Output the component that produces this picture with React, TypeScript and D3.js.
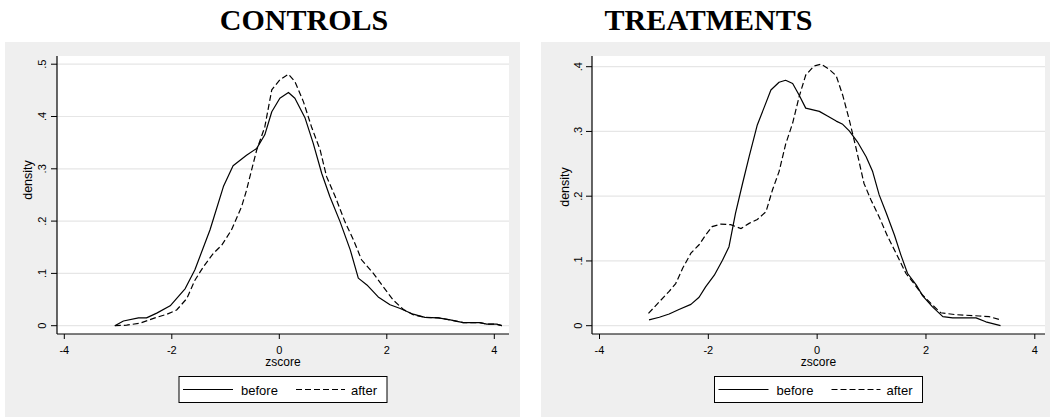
import * as d3 from "d3";

// zscore / density pairs
const controlsBefore: [number, number][] = [
  [-3.06, 0.0], [-2.9, 0.009], [-2.62, 0.015], [-2.47, 0.015], [-2.28, 0.024], [-2.03, 0.038],
  [-1.75, 0.071], [-1.57, 0.107], [-1.29, 0.183], [-1.04, 0.266], [-0.86, 0.306], [-0.61, 0.326],
  [-0.42, 0.339], [-0.27, 0.365], [-0.14, 0.409], [0.01, 0.435], [0.17, 0.446], [0.29, 0.435],
  [0.48, 0.397], [0.63, 0.349], [0.79, 0.291], [0.94, 0.247], [1.13, 0.199], [1.32, 0.145],
  [1.47, 0.091], [1.63, 0.078], [1.84, 0.055], [2.06, 0.04], [2.25, 0.033], [2.49, 0.022],
  [2.71, 0.016], [2.96, 0.015], [3.18, 0.011], [3.42, 0.006], [3.73, 0.006], [3.86, 0.003],
  [4.04, 0.003], [4.14, 0.0],
];

const controlsAfter: [number, number][] = [
  [-3.06, 0.0], [-2.84, 0.001], [-2.59, 0.005], [-2.34, 0.014], [-2.09, 0.022], [-1.91, 0.03],
  [-1.72, 0.052], [-1.57, 0.087], [-1.41, 0.113], [-1.23, 0.138], [-1.07, 0.154], [-0.89, 0.183],
  [-0.7, 0.228], [-0.61, 0.259], [-0.51, 0.3], [-0.42, 0.336], [-0.27, 0.38], [-0.14, 0.451],
  [0.01, 0.47], [0.17, 0.481], [0.29, 0.467], [0.45, 0.428], [0.6, 0.38], [0.76, 0.336],
  [0.88, 0.285], [1.04, 0.247], [1.22, 0.199], [1.38, 0.164], [1.53, 0.126], [1.75, 0.1],
  [1.93, 0.075], [2.12, 0.049], [2.31, 0.031], [2.49, 0.021], [2.71, 0.016], [2.96, 0.015],
  [3.18, 0.011], [3.42, 0.006], [3.73, 0.006], [3.86, 0.003], [4.04, 0.003], [4.14, 0.0],
];

const treatmentsBefore: [number, number][] = [
  [-3.09, 0.009], [-2.9, 0.013], [-2.72, 0.018], [-2.54, 0.025], [-2.32, 0.033], [-2.17, 0.044],
  [-2.05, 0.06], [-1.89, 0.078], [-1.74, 0.101], [-1.62, 0.122], [-1.5, 0.174], [-1.37, 0.22],
  [-1.25, 0.261], [-1.1, 0.31], [-0.97, 0.338], [-0.85, 0.364], [-0.7, 0.376], [-0.58, 0.379],
  [-0.45, 0.374], [-0.33, 0.356], [-0.21, 0.336], [0.04, 0.331], [0.19, 0.324], [0.35, 0.316],
  [0.47, 0.311], [0.59, 0.301], [0.74, 0.284], [0.9, 0.261], [1.02, 0.238], [1.14, 0.202],
  [1.27, 0.174], [1.42, 0.14], [1.54, 0.109], [1.66, 0.081], [1.82, 0.063], [1.94, 0.046],
  [2.12, 0.029], [2.31, 0.014], [2.49, 0.012], [2.92, 0.012], [3.1, 0.006], [3.37, 0.0],
];

const treatmentsAfter: [number, number][] = [
  [-3.1, 0.019], [-2.9, 0.037], [-2.72, 0.053], [-2.6, 0.065], [-2.47, 0.089], [-2.32, 0.112],
  [-2.17, 0.125], [-2.05, 0.14], [-1.93, 0.153], [-1.77, 0.157], [-1.59, 0.156], [-1.4, 0.15],
  [-1.25, 0.158], [-1.1, 0.164], [-0.94, 0.176], [-0.82, 0.21], [-0.7, 0.238], [-0.58, 0.28],
  [-0.45, 0.313], [-0.33, 0.354], [-0.21, 0.387], [-0.06, 0.401], [0.07, 0.404], [0.22, 0.396],
  [0.35, 0.386], [0.47, 0.356], [0.59, 0.318], [0.71, 0.276], [0.86, 0.22], [0.99, 0.194],
  [1.14, 0.168], [1.3, 0.137], [1.45, 0.112], [1.63, 0.081], [1.78, 0.065], [1.94, 0.047],
  [2.12, 0.032], [2.27, 0.02], [2.55, 0.017], [2.98, 0.015], [3.16, 0.014], [3.37, 0.009],
];

const xTicks = [-4, -2, 0, 2, 4];
const controlsYTicks = [0, 0.1, 0.2, 0.3, 0.4, 0.5];
const treatmentsYTicks = [0, 0.1, 0.2, 0.3, 0.4];
const legendLabels = ["before", "after"];

const sans = "'Liberation Sans', Arial, sans-serif";
const fmtY = (v: number) => (v === 0 ? "0" : d3.format(".1f")(v).replace(/^0/, ""));

type PanelProps = {
  title: string;
  titleX: number;
  bg: [number, number];
  plot: [number, number];
  xRange: [number, number];
  yTop: number;
  yMax: number;
  yTicks: number[];
  before: [number, number][];
  after: [number, number][];
  tickLabelOff: number;
  yTitleOff: number;
  yTitleY: number;
};

function Panel(p: PanelProps) {
  const x = d3.scaleLinear().domain([-4, 4]).range(p.xRange);
  const y = d3.scaleLinear().domain([0, p.yMax]).range([325.7, p.yTop]);
  const line = d3.line<[number, number]>().x(d => x(d[0])).y(d => y(d[1]));
  const [px0, px1] = p.plot;
  const plotTop = 56;
  const plotBottom = 334;
  const cx = (px0 + px1) / 2;
  const lgW = 208;
  const lgX = cx - lgW / 2;

  return (
    <g>
      <text x={p.titleX} y={30} textAnchor="middle" fontFamily="'Liberation Serif', 'Times New Roman', serif"
        fontWeight="bold" fontSize={30}>{p.title}</text>
      <rect x={p.bg[0]} y={42} width={p.bg[1] - p.bg[0]} height={375} fill="#efefef" />
      <rect x={px0} y={plotTop} width={px1 - px0} height={plotBottom - plotTop} fill="#ffffff" />
      {p.yTicks.map(t => (
        <g key={t}>
          <line x1={px0} x2={px1} y1={y(t)} y2={y(t)} stroke="#e6e6e6" strokeWidth={1.2} />
          <line x1={px0 - 6} x2={px0} y1={y(t)} y2={y(t)} stroke="#000" />
          <text transform={`translate(${px0 - p.tickLabelOff},${y(t)}) rotate(-90)`} textAnchor="middle"
            fontFamily={sans} fontSize={11}>{fmtY(t)}</text>
        </g>
      ))}
      <text transform={`translate(${px0 - p.yTitleOff},${p.yTitleY}) rotate(-90)`} textAnchor="middle"
        fontFamily={sans} fontSize={12.5}>density</text>
      {xTicks.map(t => (
        <g key={t}>
          <line x1={x(t)} x2={x(t)} y1={plotBottom} y2={plotBottom + 5} stroke="#000" />
          <text x={x(t)} y={353.5} textAnchor="middle" fontFamily={sans} fontSize={11}>{t}</text>
        </g>
      ))}
      <text x={cx} y={366} textAnchor="middle" fontFamily={sans} fontSize={12}>zscore</text>
      <line x1={px0} x2={px0} y1={plotTop} y2={plotBottom} stroke="#000" strokeWidth={1.2} />
      <line x1={px0} x2={px1} y1={plotBottom} y2={plotBottom} stroke="#000" strokeWidth={1.2} />
      <path d={line(p.before) ?? ""} fill="none" stroke="#000" strokeWidth={1.2} strokeLinejoin="round" />
      <path d={line(p.after) ?? ""} fill="none" stroke="#000" strokeWidth={1.2} strokeDasharray="6,3" />
      <rect x={lgX} y={376.5} width={lgW} height={26} fill="#fff" stroke="#000" strokeWidth={1} />
      <line x1={lgX + 4} x2={lgX + 54} y1={389.5} y2={389.5} stroke="#000" strokeWidth={1.2} />
      <text x={lgX + 62} y={395} fontFamily={sans} fontSize={13}>{legendLabels[0]}</text>
      <line x1={lgX + 117} x2={lgX + 166} y1={389.5} y2={389.5} stroke="#000" strokeWidth={1.2} strokeDasharray="6,3" />
      <text x={lgX + 172} y={395} fontFamily={sans} fontSize={13}>{legendLabels[1]}</text>
    </g>
  );
}

export default function App() {
  return (
    <svg width={1050} height={417} style={{ position: "absolute", left: 0, top: 0, background: "#fff" }}>
      <Panel title="CONTROLS" titleX={304} bg={[5, 520]} plot={[57, 509]} xRange={[64.3, 494.3]}
        yTop={64.2} yMax={0.5} yTicks={controlsYTicks} before={controlsBefore} after={controlsAfter}
        tickLabelOff={11.5} yTitleOff={25} yTitleY={180} />
      <Panel title="TREATMENTS" titleX={708.5} bg={[541, 1050]} plot={[592, 1045]} xRange={[599.5, 1034.8]}
        yTop={66.7} yMax={0.4} yTicks={treatmentsYTicks} before={treatmentsBefore} after={treatmentsAfter}
        tickLabelOff={10} yTitleOff={23} yTitleY={187} />
    </svg>
  );
}
